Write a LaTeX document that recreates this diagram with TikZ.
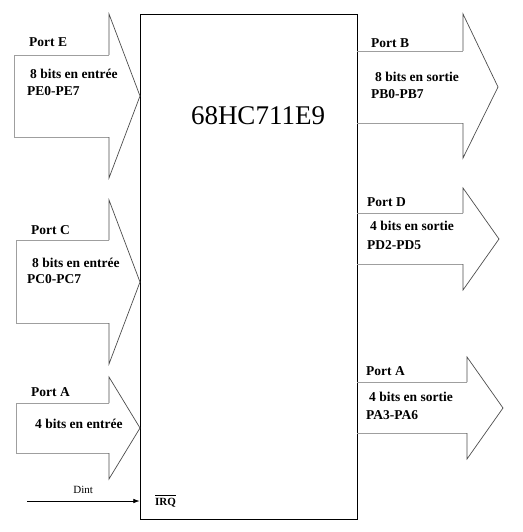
\documentclass[tikz,border=0pt]{standalone}
\usepackage{fontspec}
\setmainfont{Liberation Serif}
\usetikzlibrary{arrows.meta, positioning, calc}
\tikzset{
  chipbox/.style={draw, line width=0.9pt, inner sep=0pt, minimum width=217pt,
    minimum height=505pt},
  shaft/.style={draw=gray!75, line width=0.8pt},
  head/.style={draw=black!70, line width=0.7pt, line join=miter},
  portlbl/.style={anchor=west, inner sep=0pt, font=\fontsize{13.5}{15}\selectfont\bfseries},
  sig/.style={-{Latex[length=2.2mm, width=1.6mm]}, line width=0.6pt}
}

\begin{document}
\begin{tikzpicture}[x=1pt, y=-1pt]
    \useasboundingbox (0,0) rectangle (522,532);
    \node[chipbox] (chip) at (248.5,266.5) {};
    \node[font=\fontsize{27}{30}\selectfont] (name) at (258,116) {68HC711E9};

    % input ports (left side)
    \draw[shaft] (109,55) -- (14,55) -- (14,137) -- (109,137);
    \draw[head] (109,55) -- (109,14) -- (140,96) -- (109,178) -- (109,137);
    \draw[shaft] (109,240) -- (16,240) -- (16,323) -- (109,323);
    \draw[head] (109,240) -- (109,200) -- (140,282) -- (109,364) -- (109,323);
    \draw[shaft] (109,403) -- (16,403) -- (16,453) -- (109,453);
    \draw[head] (109,403) -- (109,377) -- (140,428) -- (109,479) -- (109,453);

    % output ports (right side)
    \draw[shaft] (chip.east |- 0,51) -- (463,51);
    \draw[shaft] (chip.east |- 0,123) -- (463,123);
    \draw[head] (463,51) -- (463,14) -- (498,87) -- (463,158) -- (463,123);
    \draw[shaft] (chip.east |- 0,213) -- (463,213);
    \draw[shaft] (chip.east |- 0,264) -- (463,264);
    \draw[head] (463,213) -- (463,188) -- (499,239) -- (463,290) -- (463,264);
    \draw[shaft] (chip.east |- 0,382) -- (467,382);
    \draw[shaft] (chip.east |- 0,433) -- (467,433);
    \draw[head] (467,382) -- (467,357) -- (503,408) -- (467,459) -- (467,433);

    \node[portlbl] (portE) at (29,42) {Port E};
    \node[portlbl] (inE) at (30,74) {8 bits en entrée};
    \node[portlbl] (pinsE) at (27,91) {PE0-PE7};
    \node[portlbl] (portC) at (31,230) {Port C};
    \node[portlbl] (inC) at (32,263) {8 bits en entrée};
    \node[portlbl] (pinsC) at (27,279) {PC0-PC7};
    \node[portlbl] (portAin) at (31,392) {Port A};
    \node[portlbl] (inA) at (35,424) {4 bits en entrée};

    \node[portlbl] (portB) at (371,43) {Port B};
    \node[portlbl] (outB) at (375,77) {8 bits en sortie};
    \node[portlbl] (pinsB) at (371,94) {PB0-PB7};
    \node[portlbl] (portD) at (367,202) {Port D};
    \node[portlbl] (outD) at (370,226) {4 bits en sortie};
    \node[portlbl] (pinsD) at (367,245) {PD2-PD5};
    \node[portlbl] (portAout) at (366,371) {Port A};
    \node[portlbl] (outA) at (369,397) {4 bits en sortie};
    \node[portlbl] (pinsA) at (366,415) {PA3-PA6};

    % interrupt line
    \node[anchor=west, inner xsep=0pt, inner ysep=3pt, font=\fontsize{11}{13}\selectfont\bfseries] (irq) at (155,503) {IRQ};
    \draw[line width=0.6pt] (irq.north west) -- (irq.north east);
    \coordinate (dint) at (27,501);
    \draw[sig] (dint) -- node[above=4pt, font=\fontsize{11}{13}\selectfont] (dintlbl) {Dint} (dint -| chip.west);
\end{tikzpicture}
\end{document}
